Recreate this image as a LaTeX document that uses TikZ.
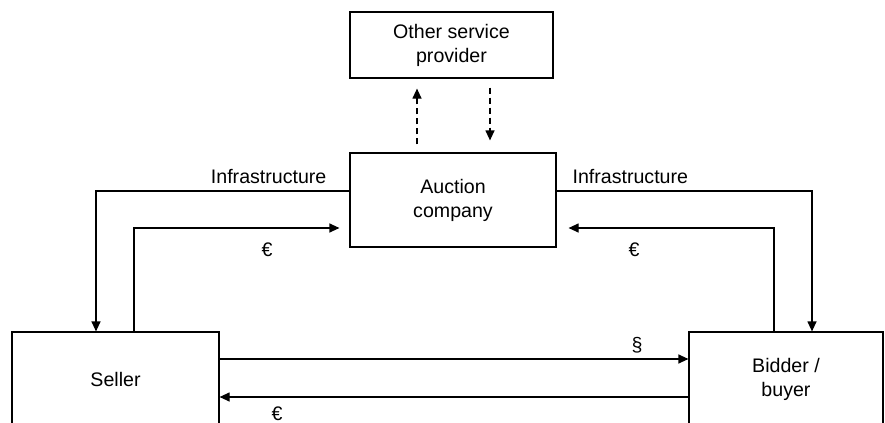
\documentclass[tikz,border=0pt]{standalone}
\usepackage{fontspec}
\setmainfont{Liberation Sans}
\usetikzlibrary{arrows.meta}
\begin{document}
\begin{tikzpicture}[x=0.5pt,y=-0.5pt,font=\fontsize{9.8}{12}\selectfont,line width=0.6pt,
  box/.style={draw,align=center,minimum height=47pt,inner sep=0pt},
  arr/.style={-{Triangle[length=5pt,width=4.5pt]}},
  dasharr/.style={arr,dash pattern=on 3pt off 2pt},
  lbl/.style={inner sep=0pt}]
  \clip (0,0) rectangle (885,423);
  % boxes
  \node[box,minimum width=101.5pt,minimum height=33pt] (osp) at (451.5,45) {Other service\\provider};
  \node[box,minimum width=103pt] (auction) at (453,200) {Auction\\company};
  \node[box,minimum width=103.5pt] (seller) at (115.5,379) {Seller};
  \node[box,minimum width=97pt] (bidder) at (786,379) {Bidder /\\buyer};
  % labels
  \node[lbl,anchor=base east] (infl) at (327,183) {Infrastructure};
  \node[lbl,anchor=base west] (infr) at (572,183) {Infrastructure};
  \node[lbl,anchor=base] (eurl) at (267,256) {€};
  \node[lbl,anchor=base] (eurr) at (634,256) {€};
  \node[lbl,anchor=base] (para) at (637,351) {§};
  \node[lbl,anchor=base] (eurb) at (277,420) {€};
  % flows
  \draw[dasharr] ([xshift=-18pt,yshift=4pt]auction.north) -- ([xshift=-17.25pt,yshift=-5pt]osp.south);
  \draw[dasharr] ([xshift=19.25pt,yshift=-4.5pt]osp.south) -- ([xshift=18.5pt,yshift=6pt]auction.north);
  \draw[arr] ([yshift=4.5pt]auction.west) -| ([xshift=-9.75pt]seller.north);
  \draw[arr] ([xshift=9.25pt]seller.north) |- ([xshift=-5pt,yshift=-14pt]auction.west);
  \draw[arr] ([yshift=4.5pt]auction.east) -| ([xshift=13pt]bidder.north);
  \draw[arr] ([xshift=-6pt]bidder.north) |- ([xshift=6pt,yshift=-14pt]auction.east);
  \draw[arr] ([yshift=10pt]seller.east) -- ([yshift=10pt]bidder.west);
  \draw[arr] ([yshift=-9pt]bidder.west) -- ([yshift=-9pt]seller.east);
\end{tikzpicture}
\end{document}
